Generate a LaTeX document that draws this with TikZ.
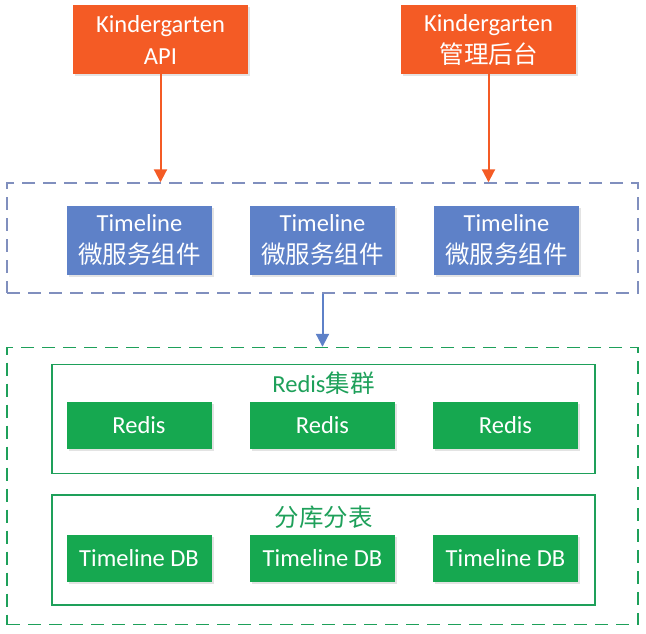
\documentclass[tikz,border=0pt]{standalone}
\usepackage{fontspec}
\setmainfont{Carlito}
\newfontfamily\cjk{Noto Sans CJK SC}
\usetikzlibrary{arrows.meta,shadows}
\definecolor{orng}{RGB}{244,91,37}
\definecolor{bbox}{RGB}{94,129,200}
\definecolor{bdash}{RGB}{128,143,190}
\definecolor{gbox}{RGB}{22,168,80}
\definecolor{gline}{RGB}{30,160,90}
\begin{document}
\begin{tikzpicture}[x=1pt,y=-1pt,
  box/.style={inner sep=0pt, align=center, text=white,
    font=\fontsize{24.5}{32}\selectfont,
    drop shadow={opacity=0.22, shadow xshift=2pt, shadow yshift=-2pt}},
  obox/.style={box, fill=orng, minimum width=175pt, minimum height=69pt},
  bluebox/.style={box, fill=bbox, minimum width=145pt, minimum height=69pt},
  gnbox/.style={box, fill=gbox, minimum width=145pt, minimum height=47pt},
  layer/.style={draw, line width=1.4pt, dash pattern=on 13pt off 8pt, inner sep=0pt, minimum width=631pt},
  group/.style={draw=gline, line width=1.3pt, inner sep=0pt, minimum width=543pt},
  gtitle/.style={text=gline, font=\fontsize{24.5}{28}\selectfont, inner sep=0pt},
  conn/.style={line width=2pt, -{Triangle[length=13pt,width=13pt]}}
]
\useasboundingbox (0,0) rectangle (646,634);
% containers
\node[layer, draw=bdash, minimum height=110pt] (svc) at (322.5,238) {};
\node[layer, draw=gline, minimum height=277pt] (store) at (322.5,486) {};
\node[group, minimum height=109pt] (rgrp) at (323.5,419) {};
\node[group, minimum height=110pt] (dgrp) at (323.5,550) {};
\node[gtitle] (rtitle) at (323.5,383) {Redis{\cjk 集群}};
\node[gtitle] (dtitle) at (323.5,517) {{\cjk 分库分表}};
% top
\node[obox] (api) at (160.5,39.5) {Kindergarten\\API};
\node[obox] (admin) at (488.5,39.5) {Kindergarten\\{\cjk 管理后台}};
% services
\node[bluebox] (t1) at (139.5,240) {Timeline\\{\cjk 微服务组件}};
\node[bluebox] (t2) at (322.5,240) {Timeline\\{\cjk 微服务组件}};
\node[bluebox] (t3) at (506.5,240) {Timeline\\{\cjk 微服务组件}};
% redis
\node[gnbox] (r1) at (139,425.5) {Redis};
\node[gnbox] (r2) at (322.5,425.5) {Redis};
\node[gnbox] (r3) at (505.5,425.5) {Redis};
% db
\node[gnbox] (d1) at (139,558.5) {Timeline DB};
\node[gnbox] (d2) at (322.5,558.5) {Timeline DB};
\node[gnbox] (d3) at (505.5,558.5) {Timeline DB};
% arrows
\draw[conn, orng] (api.south) -- (api.south |- svc.north);
\draw[conn, orng] (admin.south) -- (admin.south |- svc.north);
\draw[conn, bbox] (svc.south) -- (store.north);
\end{tikzpicture}
\end{document}
